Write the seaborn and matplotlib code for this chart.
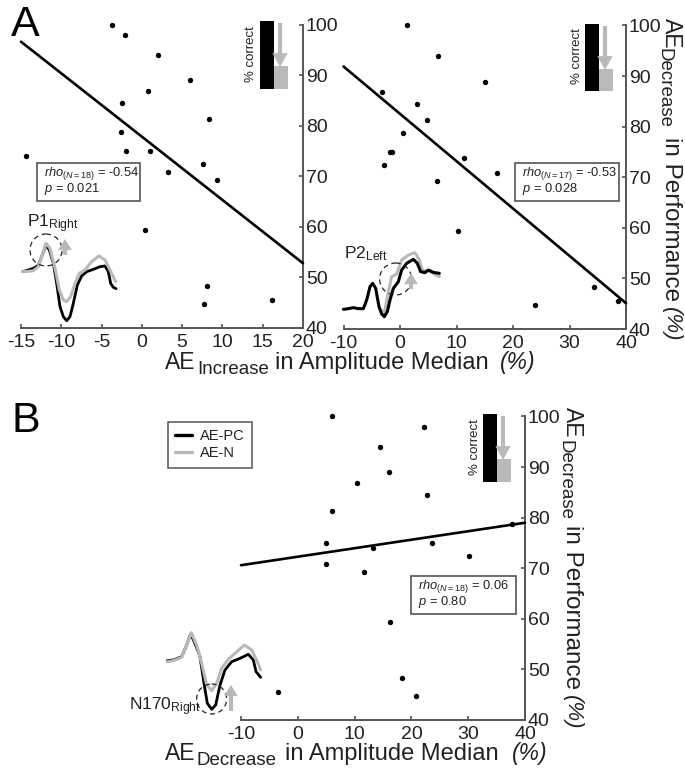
import numpy as np
import pandas as pd
import matplotlib as mpl
mpl.use('Agg')
import matplotlib.pyplot as plt
from matplotlib.patches import Ellipse, Rectangle
import seaborn as sns

# panel A left
a1_x = [-3.73, -2.08, 1.98, 5.92, 0.78, -2.41, 8.32, -2.53, -1.95, 1.07, -14.4, 7.53, 3.3, 9.35, 0.45, 8.1, 7.7, 16.1]
a1_y = [100, 98, 94, 89, 86.8, 84.5, 81.3, 78.75, 74.9, 74.9, 74, 72.5, 70.9, 69.2, 59.4, 48.4, 44.8, 45.5]
a1_line_x = [-15, 20]
a1_line_y = [96.6, 52.8]
a1_ticks = [-15, -10, -5, 0, 5, 10, 15, 20]

# panel A right
a2_x = [1.2, 6.8, 15.1, -3.1, 3.0, 4.86, 0.55, -1.5, -1.8, 11.3, -2.87, 17.2, 6.57, 10.2, 34.4, 23.9, 38.5]
a2_y = [100, 94, 88.9, 86.8, 84.5, 81.4, 78.7, 74.9, 74.9, 73.9, 72.5, 70.8, 69.2, 59.4, 48.4, 44.7, 45.5]
a2_line_x = [-10, 40]
a2_line_y = [91.9, 45.1]

# panel B
b_x = [6.1, 22.3, 14.5, 16.1, 10.4, 22.7, 6.0, 37.7, 4.9, 13.3, 23.6, 30.1, 5.0, 11.6, 16.2, 18.4, 20.8, -3.5]
b_y = [100, 98, 94, 89, 86.9, 84.4, 81.3, 78.8, 74.9, 74, 74.9, 72.4, 70.8, 69.2, 59.3, 48.3, 44.7, 45.5]
b_line_x = [-10, 40]
b_line_y = [70.6, 79]

wide_ticks = [-10, 0, 10, 20, 30, 40]
perf_ticks = [40, 50, 60, 70, 80, 90, 100]

# ERP traces, in reference pixels x3 from the crop corner
p1_pc_x = [68, 85, 100, 115, 125, 138, 148, 160, 170, 180, 190, 200, 210, 220, 232, 245, 260, 280, 300, 315, 325, 332, 340, 348]
p1_pc_y = [215, 210, 205, 196, 170, 135, 150, 190, 250, 320, 350, 362, 350, 310, 255, 228, 215, 208, 200, 198, 215, 250, 262, 266]
p1_n_x = [68, 85, 100, 115, 125, 138, 150, 165, 178, 190, 200, 212, 225, 238, 255, 275, 297, 315, 330, 347]
p1_n_y = [215, 214, 212, 200, 170, 130, 145, 205, 270, 300, 305, 290, 250, 220, 210, 185, 168, 180, 210, 245]

p2_pc_x = [40, 55, 70, 85, 100, 110, 120, 128, 137, 147, 155, 163, 172, 180, 190, 205, 215, 230, 250, 262, 272, 285, 295, 310, 328]
p2_pc_y = [238, 236, 233, 236, 236, 210, 170, 160, 175, 230, 252, 260, 245, 210, 175, 155, 120, 100, 88, 100, 125, 128, 120, 127, 130]
p2_n_x = [155, 163, 172, 185, 200, 215, 235, 255, 268, 278, 295, 328]
p2_n_y = [240, 250, 200, 140, 132, 90, 75, 68, 90, 122, 122, 140]

n170_pc_x = [52, 70, 95, 108, 122, 135, 150, 162, 172, 185, 197, 210, 225, 245, 270, 295, 310, 318, 332]
n170_pc_y = [122, 120, 110, 80, 42, 70, 110, 190, 250, 268, 255, 195, 150, 125, 115, 103, 120, 155, 172]
n170_n_x = [52, 70, 95, 108, 124, 140, 155, 170, 185, 200, 215, 235, 255, 283, 305, 322, 332]
n170_n_y = [125, 122, 112, 80, 38, 75, 130, 195, 212, 190, 145, 118, 100, 75, 90, 125, 150]

W, H = 685, 770
GRAY = '#b9b9b9'
AXC = '#555555'
TXT = '#222222'

sns.set_theme(style='white')
plt.rcParams['font.family'] = ['Liberation Sans', 'DejaVu Sans']
plt.rcParams['mathtext.fontset'] = 'custom'
plt.rcParams['mathtext.rm'] = 'Liberation Sans'
plt.rcParams['mathtext.it'] = 'Liberation Sans:italic'
plt.rcParams['axes.unicode_minus'] = False

fig = plt.figure(figsize=(W / 100, H / 100), dpi=100)


def panel(left, right, top, bottom, xs, ys, lx, ly, xticks):
    ax = fig.add_axes([left / W, 1 - bottom / H, (right - left) / W, (bottom - top) / H])
    ax.patch.set_alpha(0)
    sns.scatterplot(x=xs, y=ys, ax=ax, color='black', s=15, linewidth=0, clip_on=False, zorder=3)
    sns.lineplot(x=lx, y=ly, ax=ax, color='black', linewidth=1.9, clip_on=False, zorder=3)
    ax.set_xlim(xticks[0], xticks[-1])
    ax.set_ylim(40, 100)
    ax.set_xticks(xticks)
    ax.set_xticklabels([str(t) for t in xticks])
    ax.set_yticks(perf_ticks)
    ax.set_yticklabels([str(t) for t in perf_ticks])
    ax.yaxis.tick_right()
    ax.tick_params(axis='both', direction='in', length=3, width=1.2, color=AXC, labelcolor=TXT, labelsize=14, pad=2,
                   bottom=True, right=True, left=False, top=False)
    ax.tick_params(axis='x', pad=4)
    ax.spines['top'].set_visible(False)
    ax.spines['left'].set_visible(False)
    ax.spines['right'].set_color(AXC)
    ax.spines['bottom'].set_color(AXC)
    ax.spines['right'].set_linewidth(1.4)
    ax.spines['bottom'].set_linewidth(1.4)
    return ax


panel(21, 303, 24.5, 328, a1_x, a1_y, a1_line_x, a1_line_y, a1_ticks)
panel(343.5, 626, 25.5, 329, a2_x, a2_y, a2_line_x, a2_line_y, wide_ticks)
panel(241, 525, 416.5, 720, b_x, b_y, b_line_x, b_line_y, wide_ticks)

# overlay in picture pixels for the annotations
ov = fig.add_axes([0, 0, 1, 1], zorder=5)
ov.set_xlim(0, W)
ov.set_ylim(H, 0)
ov.axis('off')


def trace(x, y, x0, y0, color, lw, z, label=None):
    sns.lineplot(x=x0 + np.array(x) / 3, y=y0 + np.array(y) / 3, ax=ov, color=color, linewidth=lw, sort=False,
                 estimator=None, zorder=z, label=label, legend=False)


trace(p1_pc_x, p1_pc_y, 0, 200, 'black', 2.0, 3)
trace(p1_n_x, p1_n_y, 0, 200, GRAY, 2.2, 4)
trace(p2_n_x, p2_n_y, 330, 230, GRAY, 2.2, 3)
trace(p2_pc_x, p2_pc_y, 330, 230, 'black', 2.2, 4)
trace(n170_pc_x, n170_pc_y, 150, 620, 'black', 2.0, 3)
trace(n170_n_x, n170_n_y, 150, 620, GRAY, 2.2, 4)

# dashed circles
for cx, cy, r in [(46, 250, 16), (395.6, 279, 16), (211.6, 699, 15)]:
    ov.add_patch(Ellipse((cx, cy), 2 * r, 2 * r, fill=False, edgecolor='#222222', linewidth=0.9, linestyle=(0, (4, 3)), zorder=5))


def arrow(x, y0, y1, hw, hl):
    ov.annotate('', xy=(x, y1), xytext=(x, y0),
                arrowprops=dict(width=3, headwidth=hw, headlength=hl, color=GRAY, shrink=0, linewidth=0), zorder=5)


arrow(65, 255, 239, 10, 8)
arrow(411, 289, 273, 10, 8)
arrow(231, 711, 685, 10, 8)


# little % correct schematics
def schematic(x0, top, bottom, step, bw, arrow_x, text_x):
    ov.add_patch(Rectangle((x0, top), bw, bottom - top, color='black', linewidth=0))
    ov.add_patch(Rectangle((x0 + bw, step), bw, bottom - step, color=GRAY, linewidth=0))
    arrow(arrow_x, top + 2, step + 1, 11, 10)
    ov.text(text_x, (top + bottom) / 2 - 1, '% correct', rotation=90, ha='center', va='center', fontsize=9.5, color=TXT)


schematic(260, 21, 89, 66, 14, 280, 251)
schematic(585, 24, 91, 69, 14, 605, 577)
schematic(483.5, 414, 482, 459, 14, 503, 475)


# statistic boxes
def stats(x0, y0, x1, y1, rho, p):
    ov.add_patch(Rectangle((x0, y0), x1 - x0, y1 - y0, fill=False, edgecolor=AXC, linewidth=1.2))
    ov.text(x0 + 7, y0 + 10.5, rho, ha='left', va='center', fontsize=9.3, color=TXT)
    ov.text(x0 + 7, y0 + 26, p, ha='left', va='center', fontsize=9.3, color=TXT)


stats(37, 163, 140, 201, r'$\mathit{rho}_{\mathit{(N{=}18)}}$ = -0.54', r'$\mathit{p}$ = 0.021')
stats(515, 163, 619, 201, r'$\mathit{rho}_{\mathit{(N{=}17)}}$ = -0.53', r'$\mathit{p}$ = 0.028')
stats(411, 576, 516, 614, r'$\mathit{rho}_{\mathit{(N{=}18)}}$ = 0.06', r'$\mathit{p}$ = 0.80')

# component names
ov.text(27, 224, r'P1$_{\mathrm{Right}}$', fontsize=12.5, va='center', color=TXT)
ov.text(344, 254, r'P2$_{\mathrm{Left}}$', fontsize=12.5, va='center', color=TXT)
ov.text(129, 707, r'N170$_{\mathrm{Right}}$', fontsize=12.5, va='center', color=TXT)

# panel letters
ov.text(11, 36, 'A', fontsize=31, color='black', va='baseline')
ov.text(12, 432, 'B', fontsize=31, color='black', va='baseline')


# x labels
def xlabel(x0, x1, y, word, rest, x2, x3):
    ov.text(x0, y, 'AE', fontsize=16.5, va='baseline', ha='left', color=TXT)
    ov.text(x1, y + 5, word, fontsize=13.5, va='baseline', ha='left', color=TXT)
    ov.text(x2, y, rest, fontsize=17, va='baseline', ha='left', color=TXT)
    ov.text(x3, y, '(%)', fontsize=16.5, va='baseline', ha='left', style='italic', color=TXT)


xlabel(165, 197, 369, 'Increase', 'in Amplitude Median', 275, 500)
xlabel(165, 197, 760, 'Decrease', 'in Amplitude Median', 285, 512)


# right y labels
def ylabel(x_main, x_sub, y_ae, y_sub, y_rest, y_pct):
    ov.text(x_main, y_ae, 'AE', rotation=-90, fontsize=16.5, ha='center', va='top', color=TXT)
    ov.text(x_sub, y_sub, 'Decrease', rotation=-90, fontsize=13.5, ha='center', va='top', color=TXT)
    ov.text(x_main, y_rest, 'in Performance', rotation=-90, fontsize=17.5, ha='center', va='top', color=TXT)
    ov.text(x_main, y_pct, '(%)', rotation=-90, fontsize=16, ha='center', va='top', style='italic', color=TXT)


ylabel(671, 664, 18, 48, 137, 307)
ylabel(572, 565, 407, 440, 525, 695)

# legend
h_pc = plt.Line2D([], [], color='black', linewidth=2.4, label='AE-PC')
h_n = plt.Line2D([], [], color=GRAY, linewidth=2.4, label='AE-N')
leg = ov.legend(handles=[h_pc, h_n], loc='upper left', bbox_to_anchor=(168, 422), bbox_transform=ov.transData,
                fontsize=10.5, frameon=True, fancybox=False, edgecolor=AXC, framealpha=1, handlelength=1.16,
                handletextpad=0.55, borderpad=0.5, labelspacing=0.2, labelcolor=TXT, borderaxespad=0)
leg.get_frame().set_linewidth(1.1)

fig.savefig('out.png', dpi=100, facecolor='white')
